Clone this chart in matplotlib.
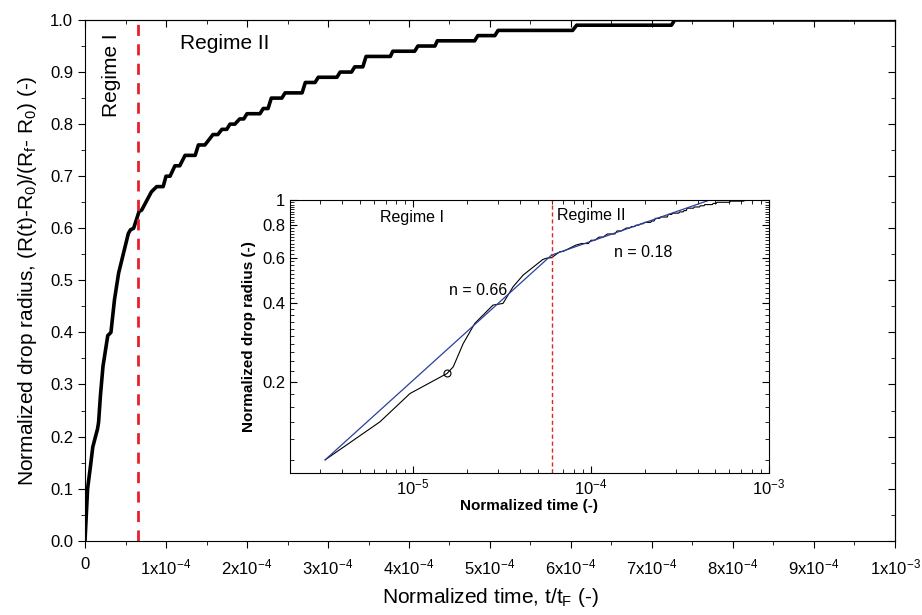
import numpy as np
import matplotlib
matplotlib.use('Agg')
import matplotlib.pyplot as plt
from matplotlib.ticker import MultipleLocator, FixedLocator, LogLocator, NullFormatter

plt.rcParams['font.family'] = ['Liberation Sans', 'DejaVu Sans']
plt.rcParams['mathtext.fontset'] = 'custom'
plt.rcParams['mathtext.rm'] = 'Liberation Sans'
plt.rcParams['mathtext.it'] = 'Liberation Sans'

# normalized time t/tF and normalized drop radius
t_norm = np.array([0, 3.2e-6, 6.5e-6, 9.6e-6, 1.55e-5, 1.68e-5, 1.91e-5, 2.22e-5, 2.81e-5,
                   3.2e-5, 3.64e-5, 4.15e-5, 5.35e-5, 5.61e-5, 6.0e-5, 6.67e-5, 7.0e-5,
                   8.2e-5, 8.85e-5, 9.65e-5, 1.00e-4, 1.05e-4, 1.11e-4, 1.17e-4, 1.235e-4,
                   1.36e-4, 1.40e-4, 1.48e-4, 1.58e-4, 1.64e-4, 1.69e-4, 1.75e-4, 1.79e-4,
                   1.85e-4, 1.91e-4, 1.96e-4, 2.00e-4, 2.16e-4, 2.20e-4, 2.26e-4, 2.30e-4,
                   2.43e-4, 2.47e-4, 2.68e-4, 2.72e-4, 2.84e-4, 2.88e-4, 3.11e-4, 3.15e-4,
                   3.29e-4, 3.33e-4, 3.43e-4, 3.47e-4, 3.77e-4, 3.80e-4, 4.07e-4, 4.11e-4,
                   4.32e-4, 4.35e-4, 4.81e-4, 4.85e-4, 5.06e-4, 5.10e-4, 6.02e-4, 6.07e-4,
                   7.24e-4, 7.28e-4, 1.0e-3])
r_norm = np.array([0, 0.10, 0.14, 0.18, 0.215, 0.228, 0.28, 0.335, 0.394,
                   0.40, 0.463, 0.514, 0.59, 0.597, 0.60, 0.632, 0.635,
                   0.67, 0.68, 0.68, 0.70, 0.70, 0.72, 0.72, 0.74,
                   0.74, 0.76, 0.76, 0.78, 0.78, 0.79, 0.79, 0.80,
                   0.80, 0.81, 0.81, 0.82, 0.82, 0.83, 0.83, 0.85,
                   0.85, 0.86, 0.86, 0.88, 0.88, 0.89, 0.89, 0.90,
                   0.90, 0.91, 0.91, 0.93, 0.93, 0.94, 0.94, 0.95,
                   0.95, 0.96, 0.96, 0.97, 0.97, 0.98, 0.98, 0.99,
                   0.99, 1.00, 1.00])

t_transition_main = 6.5e-5
t_transition_inset = 6.0e-5

# power-law fit lines (inset)
fit1_t = [3.2e-6, 6.0e-5]
fit1_r = [0.10, 0.614]
fit2_t = [6.0e-5, 4.65e-4]
fit2_r = [0.614, 1.0]

loop_t = 1.55e-5
loop_r = 0.215

fig = plt.figure(figsize=(9.22, 6.15), dpi=100)
ax = fig.add_axes([0.0922, 0.1208, 0.8785, 0.8467])

ax.plot(t_norm, r_norm, color='black', lw=2.6)
ax.axvline(t_transition_main, color='#e8202a', lw=2, ls=(0, (4, 3)))
ax.set_xlim(0, 1e-3)
ax.set_ylim(0, 1.0)

xt = np.arange(0, 11) * 1e-4
xlabels = ['0'] + [r'$\mathregular{%dx10^{-4}}$' % i for i in range(1, 10)] + [r'$\mathregular{1x10^{-3}}$']
ax.set_xticks(xt)
ax.set_xticklabels(xlabels)
ax.xaxis.set_minor_locator(MultipleLocator(0.5e-4))
ax.set_yticks(np.arange(0, 1.01, 0.1))
ax.set_yticklabels(['%.1f' % v for v in np.arange(0, 1.01, 0.1)])
ax.yaxis.set_minor_locator(MultipleLocator(0.05))
ax.tick_params(axis='both', which='both', direction='out', labelsize=12, top=False, right=False)
ax.tick_params(which='major', length=5)
ax.tick_params(which='minor', length=3)
ax.tick_params(axis='x', pad=7)

# inward ticks on top/right
axt = ax.secondary_xaxis('top')
axt.set_xticks(xt)
axt.xaxis.set_minor_locator(MultipleLocator(0.5e-4))
axt.tick_params(which='both', direction='in', labeltop=False)
axt.tick_params(which='major', length=5)
axt.tick_params(which='minor', length=3)
axr = ax.secondary_yaxis('right')
axr.set_yticks(np.arange(0, 1.01, 0.1))
axr.yaxis.set_minor_locator(MultipleLocator(0.05))
axr.tick_params(which='both', direction='in', labelright=False)
axr.tick_params(which='major', length=5)
axr.tick_params(which='minor', length=3)

ax.set_xlabel(r'Normalized time, t/t$_\mathregular{F}$ (-)', fontsize=15, labelpad=6)
ax.set_ylabel(r'Normalized drop radius, (R(t)-R$_\mathregular{0}$)/(R$_\mathregular{f}$- R$_\mathregular{0}$) (-)',
              fontsize=15, labelpad=8)

ax.text(0.33e-4, 0.975, 'Regime I', rotation=90, fontsize=15, ha='center', va='top')
ax.text(1.17e-4, 0.955, 'Regime II', fontsize=15, ha='left', va='center')

# inset log-log
ins = fig.add_axes([0.3145, 0.2309, 0.5195, 0.4439])
mask = t_norm > 0
ins.plot(t_norm[mask], r_norm[mask], color='black', lw=0.8)
ins.plot([loop_t], [loop_r], marker='o', ms=5, mfc='none', mec='black', mew=0.8)
ins.plot(fit1_t, fit1_r, color='#2b3f9e', lw=0.9)
ins.plot(fit2_t, fit2_r, color='#2b3f9e', lw=0.9)
ins.axvline(t_transition_inset, color='#d42a2a', lw=1, ls=(0, (3, 2)))
ins.set_xscale('log')
ins.set_yscale('log')
ins.set_xlim(2.03e-6, 1e-3)
ins.set_ylim(0.089, 1.0)
ins.set_xticks([1e-5, 1e-4, 1e-3])
ins.set_xticklabels([r'$\mathregular{10^{-5}}$', r'$\mathregular{10^{-4}}$', r'$\mathregular{10^{-3}}$'])
ins.xaxis.set_minor_locator(LogLocator(base=10, subs=np.arange(2, 10)))
ins.xaxis.set_minor_formatter(NullFormatter())
ins.set_yticks([0.2, 0.4, 0.6, 0.8, 1.0])
ins.set_yticklabels(['0.2', '0.4', '0.6', '0.8', '1'])
ins.yaxis.set_minor_locator(FixedLocator(np.arange(0.1, 1.0, 0.02)))
ins.yaxis.set_minor_formatter(NullFormatter())
ins.tick_params(which='both', direction='in', top=True, right=True, labelsize=12)
ins.tick_params(which='major', length=5)
ins.tick_params(which='minor', length=3)
ins.set_xlabel('Normalized time (-)', fontsize=11, fontweight='bold', labelpad=1)
ins.set_ylabel('Normalized drop radius (-)', fontsize=11, fontweight='bold', labelpad=4)

ins.text(6.5e-6, 0.86, 'Regime I', fontsize=11.5, ha='left', va='center')
ins.text(6.4e-5, 0.87, 'Regime II', fontsize=11.5, ha='left', va='center')
ins.text(1.6e-5, 0.45, 'n = 0.66', fontsize=11.5, ha='left', va='center')
ins.text(1.35e-4, 0.63, 'n = 0.18', fontsize=11.5, ha='left', va='center')

fig.savefig('out.png', dpi=100)
